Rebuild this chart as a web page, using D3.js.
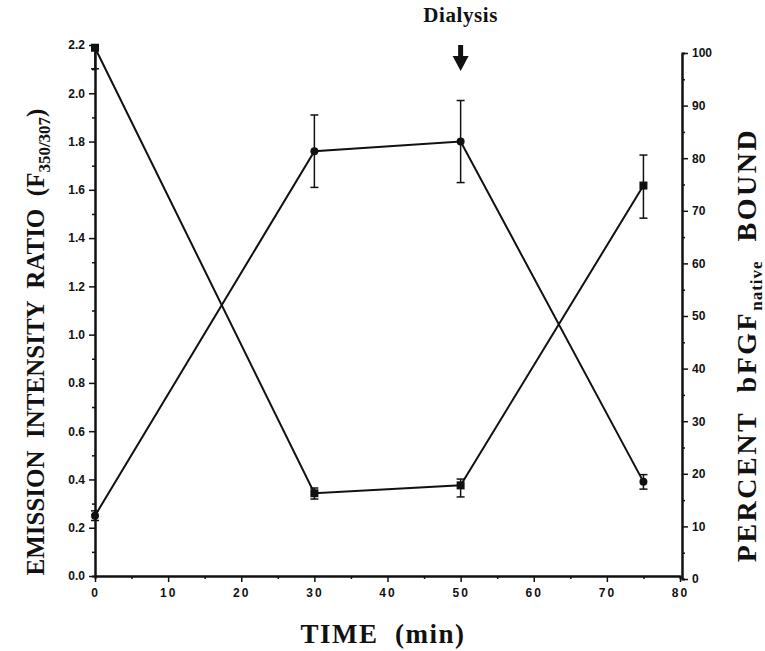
<!DOCTYPE html>
<html>
<head>
<meta charset="utf-8">
<script src="https://cdn.jsdelivr.net/npm/d3@7"></script>
<style>
  body { margin: 0; background: #fff; }
  svg { display: block; }
  .tick text { font-family: "Liberation Sans", Arial, sans-serif; font-size: 12px; font-weight: bold; fill: #111; }
  .title { font-family: "Liberation Serif", "Times New Roman", serif; font-weight: bold; fill: #111; white-space: pre; }
</style>
</head>
<body>
<svg width="765" height="651"></svg>
<script>
// time points (min)
const times = [0, 30, 50, 75];

// emission intensity ratio (circles, left axis)
const ratio = [0.25, 1.76, 1.80, 0.39];
const ratio_lo = [0.23, 1.61, 1.63, 0.36];
const ratio_hi = [0.27, 1.91, 1.97, 0.42];

// percent bFGF native bound (squares, right axis)
const bound = [101, 16.3, 17.8, 74.8];
const bound_lo = [97, 15.2, 15.6, 68.6];
const bound_hi = [101, 17.3, 19.0, 80.6];

const x_ticks = [0, 10, 20, 30, 40, 50, 60, 70, 80];
const left_ticks = [0, 0.2, 0.4, 0.6, 0.8, 1.0, 1.2, 1.4, 1.6, 1.8, 2.0, 2.2];
const right_ticks = [0, 10, 20, 30, 40, 50, 60, 70, 80, 90, 100];

const svg = d3.select('svg');

const x = d3.scaleLinear().domain([0, 80]).range([95, 680]);
const yL = d3.scaleLinear().domain([0, 2.2]).range([576, 45]);
const yR = d3.scaleLinear().domain([0, 100]).range([579, 53]);

// minor ticks
const minorAxis = (axis, scale, vals) => axis(scale).tickValues(vals).tickSize(3).tickFormat('');

svg.append('g').attr('transform', 'translate(0,576)')
    .call(minorAxis(d3.axisBottom, x, d3.range(5, 80, 10)));
svg.append('g').attr('transform', 'translate(95,0)')
    .call(minorAxis(d3.axisLeft, yL, d3.range(0.1, 2.2, 0.2)));
svg.append('g').attr('transform', 'translate(682,0)')
    .call(minorAxis(d3.axisRight, yR, d3.range(5, 100, 10)));

// major axes
const xAxis = svg.append('g').attr('transform', 'translate(0,576)')
    .call(d3.axisBottom(x).tickValues(x_ticks).tickSize(6).tickSizeOuter(0).tickPadding(6));
xAxis.selectAll('.tick text').attr('letter-spacing', '2px');

svg.append('g').attr('transform', 'translate(95,0)')
    .call(d3.axisLeft(yL).tickValues(left_ticks).tickFormat(d3.format('.1f')).tickSize(6).tickSizeOuter(0).tickPadding(4));

svg.append('g').attr('transform', 'translate(682,0)')
    .call(d3.axisRight(yR).tickValues(right_ticks).tickSize(6).tickSizeOuter(0).tickPadding(4));

svg.selectAll('.domain').attr('stroke', '#111').attr('stroke-width', 2);
svg.selectAll('.tick line').attr('stroke', '#111').attr('stroke-width', 1.5);

// series
const ratioPts = times.map((t, i) => ({x: x(t), y: yL(ratio[i]), lo: yL(ratio_lo[i]), hi: yL(ratio_hi[i])}));
const boundPts = times.map((t, i) => ({x: x(t), y: yR(bound[i]), lo: yR(bound_lo[i]), hi: yR(bound_hi[i])}));

const line = d3.line().x(d => d.x).y(d => d.y);

[ratioPts, boundPts].forEach(pts => {
    svg.append('path').datum(pts).attr('d', line)
        .attr('fill', 'none').attr('stroke', '#111').attr('stroke-width', 2);
    const eb = svg.append('g').selectAll('g').data(pts).enter().append('g')
        .attr('stroke', '#111').attr('stroke-width', 1.5);
    eb.append('line').attr('x1', d => d.x).attr('x2', d => d.x).attr('y1', d => d.lo).attr('y2', d => d.hi);
    eb.append('line').attr('x1', d => d.x - 4).attr('x2', d => d.x + 4).attr('y1', d => d.lo).attr('y2', d => d.lo);
    eb.append('line').attr('x1', d => d.x - 4).attr('x2', d => d.x + 4).attr('y1', d => d.hi).attr('y2', d => d.hi);
});

svg.append('g').selectAll('circle').data(ratioPts).enter().append('circle')
    .attr('cx', d => d.x).attr('cy', d => d.y).attr('r', 4).attr('fill', '#111');

svg.append('g').selectAll('rect').data(boundPts).enter().append('rect')
    .attr('x', d => d.x - 4).attr('y', d => d.y - 4).attr('width', 8).attr('height', 8).attr('fill', '#111');

// titles
const lt = svg.append('text').attr('class', 'title')
    .attr('transform', 'translate(44,342) rotate(-90)')
    .attr('text-anchor', 'middle').attr('font-size', 25);
lt.append('tspan').text('EMISSION  INTENSITY  RATIO  (F');
lt.append('tspan').attr('font-size', 17).attr('dy', 6).text('350/307');
lt.append('tspan').attr('dy', -6).text(')');

const rt = svg.append('text').attr('class', 'title')
    .attr('transform', 'translate(756,345) rotate(-90)')
    .attr('text-anchor', 'middle').attr('font-size', 28).attr('letter-spacing', '2.5px');
rt.append('tspan').text('PERCENT  bFGF');
rt.append('tspan').attr('font-size', 17).attr('dy', 6).attr('letter-spacing', '1px').text('native');
rt.append('tspan').attr('dy', -6).text('  BOUND');

svg.append('text').attr('class', 'title')
    .attr('x', 383).attr('y', 643).attr('text-anchor', 'middle').attr('font-size', 27)
    .attr('letter-spacing', '1.5px')
    .text('TIME  (min)');

// dialysis marker
const xd = x(50);
svg.append('text').attr('class', 'title')
    .attr('x', xd).attr('y', 22).attr('text-anchor', 'middle').attr('font-size', 21)
    .attr('letter-spacing', '0.6px')
    .text('Dialysis');
svg.append('rect').attr('x', xd - 2.5).attr('y', 45).attr('width', 5).attr('height', 12).attr('fill', '#111');
svg.append('path')
    .attr('d', `M${xd - 8},56 L${xd + 8},56 L${xd},71 Z`).attr('fill', '#111');
</script>
</body>
</html>
